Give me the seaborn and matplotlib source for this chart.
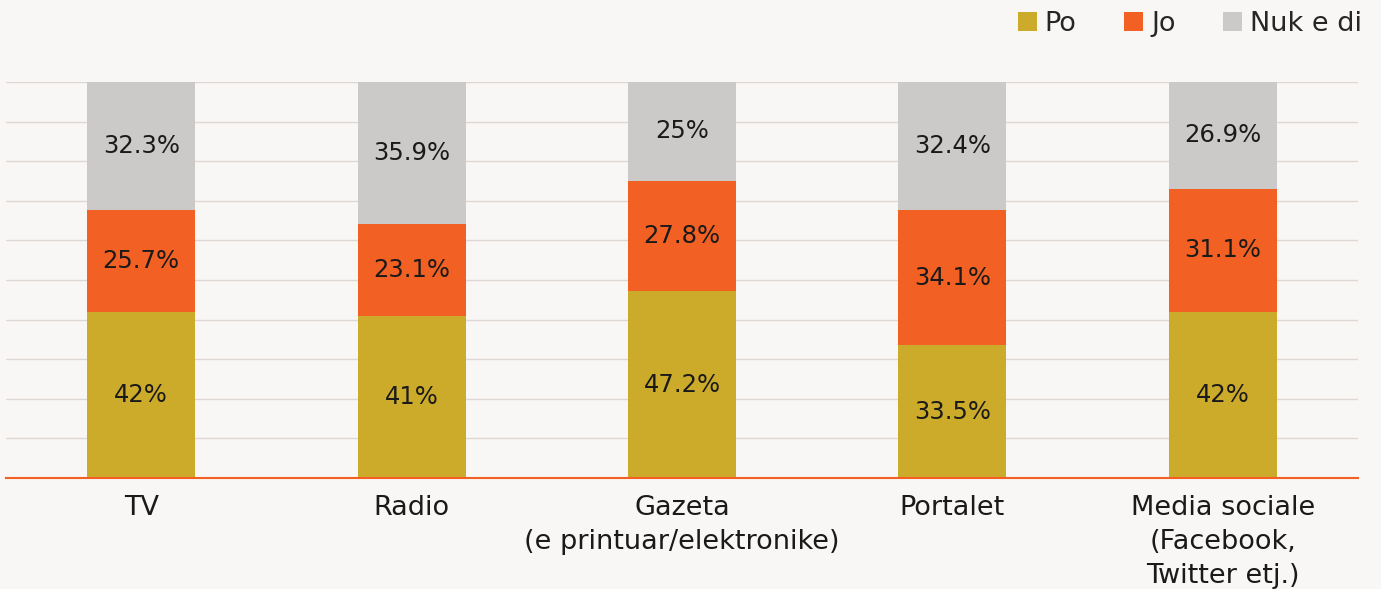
import matplotlib.pyplot as plt
import numpy as np
import pandas as pd
import seaborn as sns
from matplotlib.patches import Patch

# Data
categories = ['TV', 'Radio', 'Gazeta\n(e printuar/elektronike)', 'Portalet',
              'Media sociale\n(Facebook,\nTwitter etj.)']
po = [42, 41, 47.2, 33.5, 42]
jo = [25.7, 23.1, 27.8, 34.1, 31.1]
nuk = [32.3, 35.9, 25, 32.4, 26.9]
series_names = ['Po', 'Jo', 'Nuk e di']
colors = ['#CDAB2A', '#F26023', '#CBCAC8']
bg = '#F9F7F5'

sns.set_theme(style='white')
plt.rcParams['font.family'] = ['DejaVu Sans']

df = pd.DataFrame({'cat': categories, 'Po': po, 'Jo': jo, 'Nuk e di': nuk})
df['c1'] = df['Po']
df['c2'] = df['Po'] + df['Jo']
df['c3'] = df['c2'] + df['Nuk e di']

fig = plt.figure(figsize=(13.81, 5.89), dpi=100, facecolor=bg)
ax = fig.add_axes([6 / 1381, 111 / 589, 1352 / 1381, 396 / 589])
ax.set_facecolor(bg)

# stacked bars drawn back to front as cumulative totals
for col, c in zip(['c3', 'c2', 'c1'], colors[::-1]):
    sns.barplot(data=df, x='cat', y=col, color=c, width=0.4, ax=ax,
                saturation=1, zorder=2, linewidth=0)

ax.set_xlim(-0.5, 4.5)
ax.set_ylim(0, 100)
ax.set_yticks(np.arange(0, 101, 10))
ax.yaxis.grid(True, color='#DDD6D3', linewidth=1, zorder=0)
ax.set_axisbelow(True)
ax.set_yticklabels([])
ax.tick_params(left=False, bottom=False)
ax.set_xlabel('')
ax.set_ylabel('')
for s in ['left', 'right', 'top']:
    ax.spines[s].set_visible(False)
ax.spines['bottom'].set_color('#F26023')
ax.spines['bottom'].set_linewidth(1.5)
ax.spines['bottom'].set_zorder(5)

ax.set_xticks(range(len(categories)))
ax.set_xticklabels(categories, fontsize=19.5, color='#1a1a1a', linespacing=1.4)
ax.tick_params(axis='x', pad=6)

# value labels
for i in range(len(categories)):
    bottoms = [0, po[i], po[i] + jo[i]]
    for b, v in zip(bottoms, [po[i], jo[i], nuk[i]]):
        txt = f'{v:g}%'
        ax.text(i, b + v / 2, txt, ha='center', va='center', fontsize=17.5,
                color='#1a1a1a', zorder=6)

handles = [Patch(facecolor=c, edgecolor='none') for c in colors]
fig.legend(handles, series_names, loc='upper right', bbox_to_anchor=(1.004, 1.022),
           ncol=3, frameon=False, fontsize=19.5, handlelength=0.7, handleheight=0.7,
           handletextpad=0.3, columnspacing=1.75)

fig.savefig('out.png', dpi=100, facecolor=bg)
